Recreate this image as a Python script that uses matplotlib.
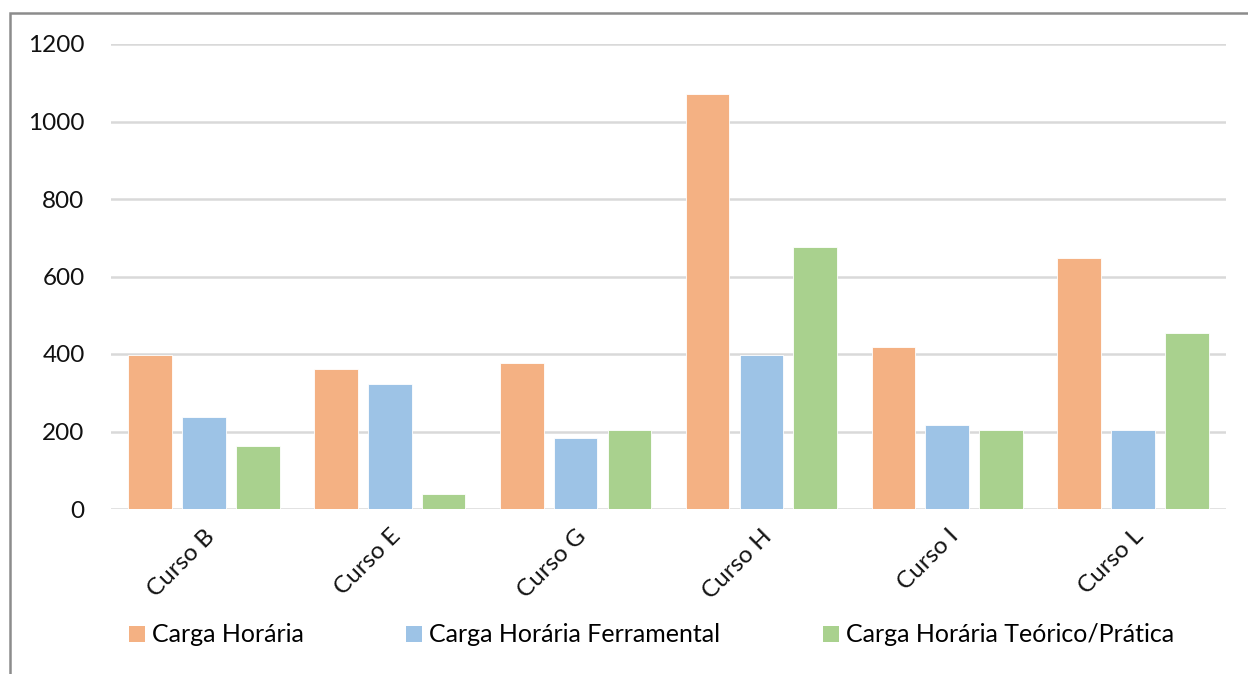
import matplotlib
matplotlib.use("Agg")
import matplotlib.pyplot as plt
from matplotlib.patches import Rectangle, Patch
import numpy as np

categories = ["Curso B", "Curso E", "Curso G", "Curso H", "Curso I", "Curso L"]
series_names = ["Carga Horária", "Carga Horária Ferramental", "Carga Horária Teórico/Prática"]
carga_horaria = [397, 362, 377, 1070, 418, 647]
carga_ferramental = [238, 322, 183, 397, 218, 204]
carga_teorico = [162, 38, 204, 675, 204, 453]
yticks = [0, 200, 400, 600, 800, 1000, 1200]

colors = ["#F4B183", "#9DC3E6", "#A9D18E"]

plt.rcParams['font.family'] = ['Lato', 'DejaVu Sans']

fig = plt.figure(figsize=(12.48, 6.74), dpi=100)
ax = fig.add_axes([111/1248, 1 - 509/674, (1226 - 111)/1248, (509 - 44)/674])

x = np.arange(len(categories))
w = 0.235
step = 0.29
for i, (vals, c, name) in enumerate(zip([carga_horaria, carga_ferramental, carga_teorico], colors, series_names)):
    ax.bar(x + (i - 1) * step, vals, width=w, color=c, edgecolor="white", linewidth=0.6, label=name, zorder=3)

ax.set_xlim(-0.5, len(categories) - 0.5)
ax.set_ylim(0, 1200)
ax.set_yticks(yticks)
ax.set_yticklabels([str(t) for t in yticks], fontsize=17.5, color="#111111")
ax.yaxis.grid(True, color="#D9D9D9", linewidth=1.8, zorder=0)
ax.set_axisbelow(True)
for s in ax.spines.values():
    s.set_visible(False)
ax.tick_params(axis='y', length=0, pad=19)
ax.tick_params(axis='x', length=0, pad=12)
ax.set_xticks(x)
ax.set_xticklabels(categories, fontsize=17.5, rotation=45, ha='right', rotation_mode='anchor', color="#111111")

handles = [Patch(facecolor=c, edgecolor='none') for c in colors]
fig.legend(handles, series_names, loc='center left', bbox_to_anchor=(129/1248, 1 - 635/674),
           ncol=3, frameon=False, fontsize=18, handlelength=0.62, handleheight=0.62,
           handletextpad=0.3, columnspacing=4.1, borderaxespad=0, borderpad=0)

frame = Rectangle((10/1248, -0.2), 1.2, 1.2 - 13/674, transform=fig.transFigure,
                  fill=False, edgecolor="#8C8C8C", linewidth=1.8, clip_on=False)
fig.patches.append(frame)

fig.savefig("out.png", dpi=100)
